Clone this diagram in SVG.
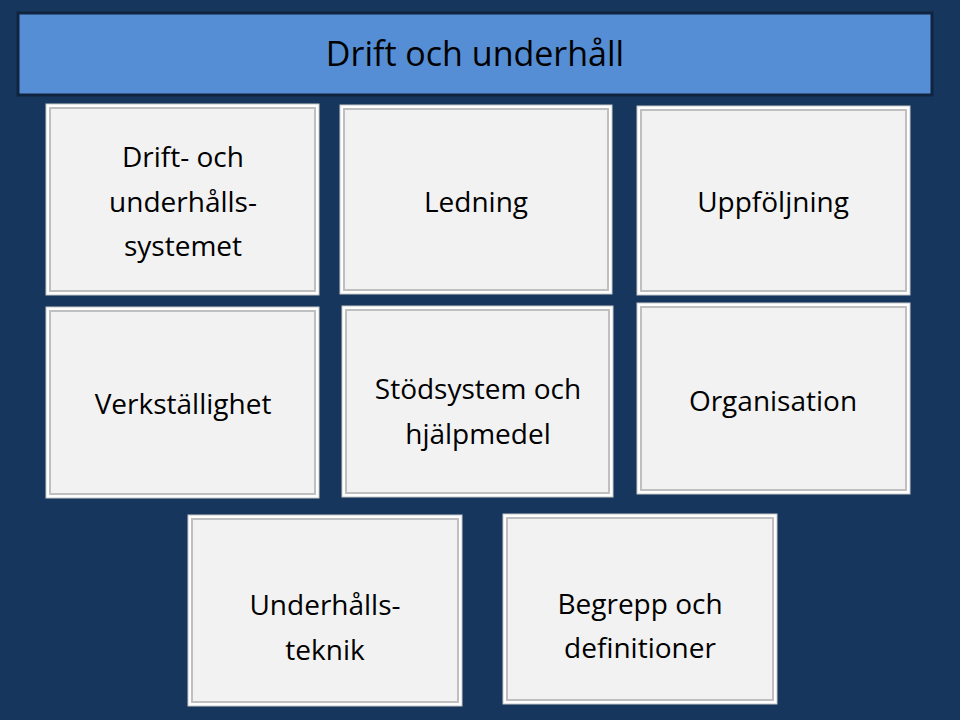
<svg xmlns="http://www.w3.org/2000/svg" width="960" height="720" viewBox="0 0 960 720">
<defs>
<linearGradient id="bg" x1="0" y1="0" x2="0" y2="1"><stop offset="0" stop-color="#1a3560"/><stop offset="1" stop-color="#17375f"/></linearGradient>
</defs>
<style>
.outer{fill:#ffffff;stroke:#c8c8c8;stroke-width:1}
.inner{fill:#f2f2f2;stroke:#bfbfbf;stroke-width:2}
.t{font-family:"Open Sans","Liberation Sans",sans-serif;font-size:28px;fill:#000;text-anchor:middle}
</style>
<rect width="960" height="720" fill="#17365d"/>
<g id="header">
<rect x="18" y="13" width="914" height="82" fill="#558ed5" stroke="#11243f" stroke-width="3"/>
<text x="475" y="66" class="t" font-size="34" style="font-size:34px">Drift och underhåll</text>
</g>
<g id="n1"><rect class="outer" x="46" y="104" width="273" height="191"/><rect class="inner" x="50" y="108" width="265" height="183"/>
<text class="t" x="183" y="167">Drift- och</text><text class="t" x="183" y="212">underhålls-</text><text class="t" x="183" y="256">systemet</text></g>
<g id="n2"><rect class="outer" x="340" y="105" width="272" height="189"/><rect class="inner" x="344" y="109" width="264" height="181"/>
<text class="t" x="476" y="212">Ledning</text></g>
<g id="n3"><rect class="outer" x="637" y="106" width="273" height="189"/><rect class="inner" x="641" y="110" width="265" height="181"/>
<text class="t" x="773" y="212">Uppföljning</text></g>
<g id="n4"><rect class="outer" x="46" y="307" width="273" height="191"/><rect class="inner" x="50" y="311" width="265" height="183"/>
<text class="t" x="183" y="414">Verkställighet</text></g>
<g id="n5"><rect class="outer" x="342" y="306" width="271" height="191"/><rect class="inner" x="346" y="310" width="263" height="183"/>
<text class="t" x="478" y="399">Stödsystem och</text><text class="t" x="478" y="444">hjälpmedel</text></g>
<g id="n6"><rect class="outer" x="637" y="303" width="273" height="191"/><rect class="inner" x="641" y="307" width="265" height="183"/>
<text class="t" x="773" y="411">Organisation</text></g>
<g id="n7"><rect class="outer" x="188" y="515" width="274" height="191"/><rect class="inner" x="192" y="519" width="266" height="183"/>
<text class="t" x="325" y="615">Underhålls-</text><text class="t" x="325" y="660">teknik</text></g>
<g id="n8"><rect class="outer" x="503" y="514" width="274" height="190"/><rect class="inner" x="507" y="518" width="266" height="182"/>
<text class="t" x="640" y="614">Begrepp och</text><text class="t" x="640" y="658">definitioner</text></g>
<g id="connectors"/>
</svg>
